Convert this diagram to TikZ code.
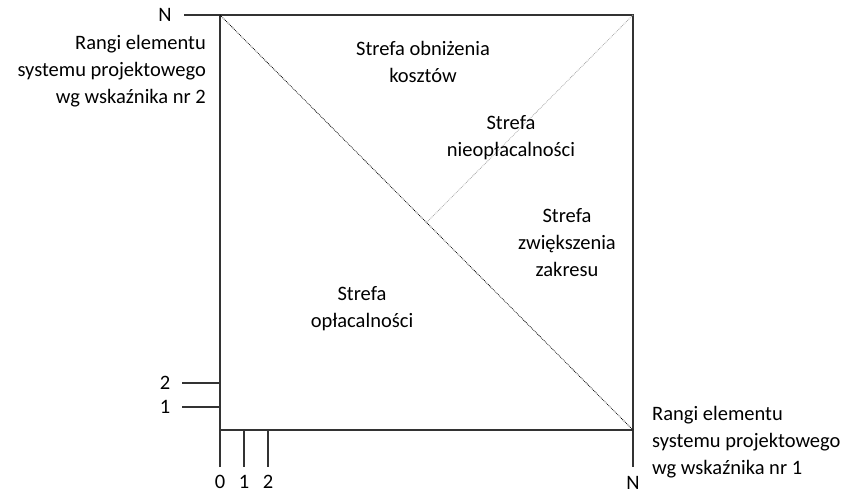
\documentclass[tikz,border=0pt]{standalone}
\usepackage{fontspec}
\setmainfont{Carlito}
\begin{document}
\begin{tikzpicture}[x=1pt,y=-1pt,font=\fontsize{20.5}{27}\selectfont,
  frame/.style={line width=1.2pt,black!80},
  rank/.style={inner sep=1pt},
  zone/.style={align=center,inner sep=0pt}]
  \useasboundingbox (0,0) rectangle (848,494);
  % corners of the rank square
  \coordinate (NW) at (220,15);
  \coordinate (NE) at (633,15);
  \coordinate (SW) at (220,430);
  \coordinate (SE) at (633,430);
  \coordinate (M) at (427,222);
  % frame and axes
  \draw[frame] (220,467) -- (NW) -- (NE) -- (633,467);
  \draw[frame] (SW) -- (SE);
  % rank ticks
  \node[rank] (yN) at (165,15) {N};
  \node[rank] (y2) at (165,383) {2};
  \node[rank] (y1) at (165,407) {1};
  \draw[frame] (184,15) -- (NW);
  \draw[frame] (182,383) -- (220,383);
  \draw[frame] (182,407) -- (220,407);
  \draw[frame] (244,430) -- (244,467);
  \draw[frame] (268,430) -- (268,467);
  \node[rank] (x0) at (220,482) {0};
  \node[rank] (x1) at (244,482) {1};
  \node[rank] (x2) at (268,482) {2};
  \node[rank] (xN) at (633,483) {N};
  % diagonals
  \draw[black,densely dotted,line width=0.8pt] (NW) -- (SE);
  \draw[black!35,densely dotted,line width=0.8pt] (NE) -- (M);
  % axis descriptions
  \node[zone,align=right,anchor=east] (ylab) at (206,71)
    {Rangi elementu\\systemu projektowego\\wg wskaźnika nr 2};
  \node[zone,align=left,anchor=west] (xlab) at (652,442)
    {Rangi elementu\\systemu projektowego\\wg wskaźnika nr 1};
  % zones
  \node[zone] (koszty) at (423,62) {Strefa obniżenia\\kosztów};
  \node[zone] (nieopl) at (511,138) {Strefa\\nieopłacalności};
  \node[zone] (zakres) at (567,243) {Strefa\\zwiększenia\\zakresu};
  \node[zone] (opl) at (362,309) {Strefa\\opłacalności};
\end{tikzpicture}
\end{document}
